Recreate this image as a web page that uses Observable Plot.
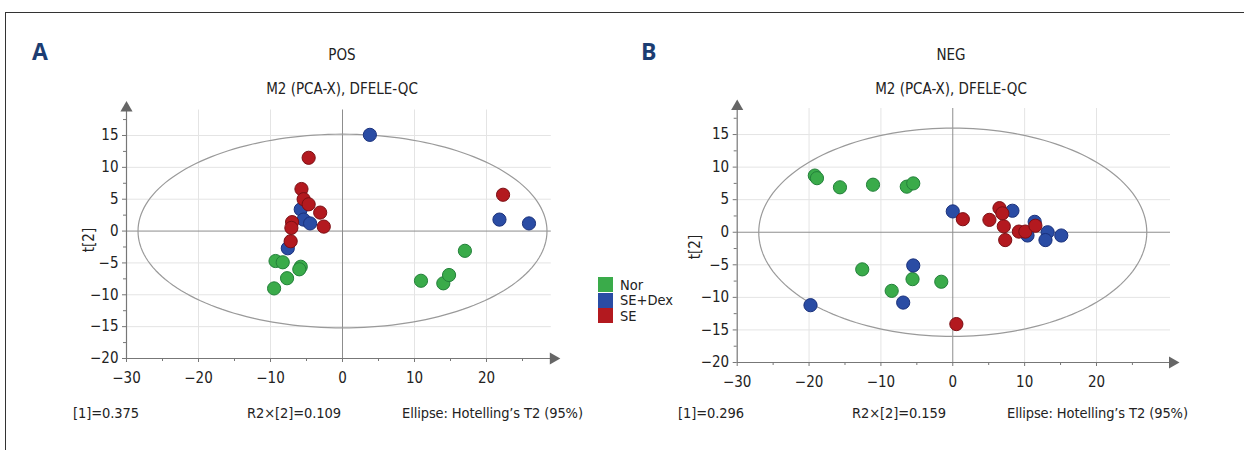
<!DOCTYPE html>
<html>
<head>
<meta charset="utf-8">
<script src="https://cdn.jsdelivr.net/npm/d3@7"></script>
<script src="https://cdn.jsdelivr.net/npm/@observablehq/plot@0.6"></script>
<style>
  html, body { margin: 0; padding: 0; background: #fff; }
  #wrap { position: relative; width: 1244px; height: 450px; background: #fff; overflow: hidden;
    font-family: "Liberation Sans Narrow", "DejaVu Sans Condensed", "Roboto Condensed", "Arial Narrow", sans-serif;
    font-stretch: condensed; color: #222; }
  .frame { position: absolute; left: 5px; top: 12px; right: 0; bottom: 0;
    border-left: 1px solid #333; border-top: 1px solid #333; }
  .abs { position: absolute; white-space: nowrap; }
  .letter { font-family: "Open Sans", "Liberation Sans", sans-serif; font-stretch: normal; font-weight: 700;
    font-size: 23px; color: #1c3d72; line-height: 1; }
  .title { font-size: 15px; line-height: 1; transform: translate(-50%, -50%); }
  .stat { font-size: 14.5px; line-height: 1; letter-spacing: -0.1px; transform: translateY(-50%); }
  .ylab { font-size: 15px; line-height: 1; transform: translate(-50%, -50%) rotate(-90deg); }
  .leg { position: absolute; left: 598px; height: 15px; display: flex; align-items: center; font-size: 14.5px; line-height: 14px; }
  .leg span.sw { display: inline-block; width: 15px; height: 15px; margin-right: 7px; }
  .plot { position: absolute; top: 100px; }
</style>
</head>
<body>
<div id="wrap">
  <div class="frame"></div>
  <div id="texts"></div>
  <div id="plotA" class="plot" style="left:0px"></div>
  <div id="plotB" class="plot" style="left:620px"></div>
</div>
<script>
// ---------- data (scores t[1], t[2]) ----------
const groups = ["Nor", "SE+Dex", "SE"];
const groupFill = ["#3aab4a", "#2a4ca4", "#b3191f"];
const groupStroke = ["#23803a", "#1a317c", "#7c0f14"];

// POS panel
const posNor = [[-9.3,-4.7],[-8.3,-4.9],[-5.8,-5.6],[-6.0,-6.0],[-7.7,-7.4],[-9.5,-9.0],[10.9,-7.8],[14.0,-8.2],[14.8,-6.9],[17.0,-3.1]];
const posDex = [[3.8,15.1],[-5.8,3.4],[-5.4,1.8],[-4.5,1.2],[-7.6,-2.7],[21.8,1.8],[25.9,1.2]];
const posSE  = [[-4.7,11.5],[-5.7,6.6],[-5.4,5.0],[-4.7,4.2],[-3.1,2.9],[-2.6,0.7],[-7.0,1.4],[-7.1,0.5],[-7.2,-1.6],[22.3,5.7]];

// NEG panel
const negNor = [[-19.2,8.7],[-18.9,8.3],[-15.7,6.9],[-11.1,7.3],[-6.4,7.0],[-5.5,7.5],[-12.6,-5.7],[-5.6,-7.2],[-8.5,-9.0],[-1.6,-7.6]];
const negDex = [[-5.5,-5.1],[-6.9,-10.8],[-19.8,-11.2],[0.0,3.2],[8.3,3.3],[10.4,-0.5],[11.4,1.6],[13.2,0.0],[12.9,-1.2],[15.1,-0.5]];
const negSE  = [[1.4,2.0],[5.1,1.9],[6.5,3.7],[6.9,2.9],[7.1,0.9],[7.3,-1.2],[9.2,0.1],[10.1,0.1],[11.5,1.0],[0.5,-14.1]];

// Hotelling's T2 ellipse semi-axes (t[1], t[2])
const posEllipse = [28.4, 15.2];
const negEllipse = [27.0, 16.0];

// axis ticks
const xTicks = [-30, -20, -10, 0, 10, 20];
const xMinor = [-25, -15, -5, 5, 15, 25];
const yTicks = [-20, -15, -10, -5, 0, 5, 10, 15];
const yMinor = [-17.5, -12.5, -7.5, -2.5, 2.5, 7.5, 12.5, 17.5];
const xGrid = [-20, -10, 10, 20];
const yGrid = [-15, -10, -5, 5, 10, 15];

// texts
const panelLetters = ["A", "B"];
const modes = ["POS", "NEG"];
const modelTitle = "M2 (PCA-X), DFELE-QC";
const r2x1 = ["[1]=0.375", "[1]=0.296"];
const r2x2 = ["R2×[2]=0.109", "R2×[2]=0.159"];
const ellipseText = "Ellipse: Hotelling’s T2 (95%)";
const yLabel = "t[2]";

// ---------- layout ----------
const panels = [
  {el: "#plotA", data: [posNor, posDex, posSE], ell: posEllipse,
   width: 620, ml: 126, mr: 69.2, mt: 9.5, mb: 42, xDomain: [-30, 29], yDomain: [-20, 19]},
  {el: "#plotB", data: [negNor, negDex, negSE], ell: negEllipse,
   width: 624, ml: 116.7, mr: 74, mt: 8, mb: 38, xDomain: [-30, 30.3], yDomain: [-20, 19]}
];

function ellipsePoints([a, b]) {
  return d3.range(0, 361, 2).map(t => [a * Math.cos(t * Math.PI / 180), b * Math.sin(t * Math.PI / 180)]);
}

panels.forEach(p => {
  const axisColor = "#777";
  const marks = [
    Plot.gridX({ticks: xGrid, stroke: "#e4e4e4", strokeOpacity: 1}),
    Plot.gridY({ticks: yGrid, stroke: "#e4e4e4", strokeOpacity: 1}),
    Plot.ruleX([0], {stroke: "#8d8d8d", strokeWidth: 1}),
    Plot.ruleY([0], {stroke: "#8d8d8d", strokeWidth: 1}),
    Plot.line(ellipsePoints(p.ell), {x: d => d[0], y: d => d[1], stroke: "#9a9a9a", strokeWidth: 1.2, curve: "linear"}),
    Plot.ruleX([p.xDomain[0]], {stroke: axisColor, strokeWidth: 1.2}),
    Plot.ruleY([p.yDomain[0]], {stroke: axisColor, strokeWidth: 1.2}),
    Plot.dot([[p.xDomain[0], p.yDomain[1]]], {x: d => d[0], y: d => d[1], symbol: "triangle", r: 4.5, fill: "#666", stroke: null, dy: -2}),
    Plot.dot([[p.xDomain[1], p.yDomain[0]]], {x: d => d[0], y: d => d[1], symbol: "triangle", r: 4.5, fill: "#666", stroke: null, rotate: 90, dx: 2}),
    Plot.axisX({ticks: xTicks, tickSize: 4, tickPadding: 10, stroke: axisColor, fill: "#222", fontSize: 15}),
    Plot.axisX({ticks: xMinor, tickSize: 3, tickFormat: () => "", stroke: axisColor}),
    Plot.axisY({ticks: yTicks, tickSize: 4, tickPadding: 4, stroke: axisColor, fill: "#222", fontSize: 15}),
    Plot.axisY({ticks: yMinor, tickSize: 3, tickFormat: () => "", stroke: axisColor})
  ];
  p.data.forEach((arr, i) => {
    marks.push(Plot.dot(arr, {x: d => d[0], y: d => d[1], r: 6.6, fill: groupFill[i], stroke: groupStroke[i], strokeWidth: 1, fillOpacity: 1}));
  });
  const chart = Plot.plot({
    width: p.width, height: 300,
    marginLeft: p.ml, marginRight: p.mr, marginTop: p.mt, marginBottom: p.mb,
    x: {domain: p.xDomain, label: null, axis: null},
    y: {domain: p.yDomain, label: null, axis: null},
    style: {background: "transparent", fontFamily: "'Liberation Sans Narrow', 'DejaVu Sans Condensed', 'Roboto Condensed', sans-serif", fontSize: "15px", color: "#222", overflow: "visible"},
    marks
  });
  document.querySelector(p.el).appendChild(chart);
});

// ---------- texts ----------
const T = document.getElementById("texts");
function add(cls, text, left, top) {
  const d = document.createElement("div");
  d.className = "abs " + cls;
  d.textContent = text;
  d.style.left = left + "px";
  d.style.top = top + "px";
  T.appendChild(d);
}
const centers = [342, 951];
add("letter", panelLetters[0], 32, 40);
add("letter", panelLetters[1], 641, 40);
modes.forEach((m, i) => add("title", m, centers[i], 55));
centers.forEach(c => add("title", modelTitle, c, 89));
add("ylab", yLabel, 89, 240);
add("ylab", yLabel, 695, 247);
const statLeft = [[73, 247, 402], [678, 852, 1007]];
[0, 1].forEach(i => {
  add("stat", r2x1[i], statLeft[i][0], 413);
  add("stat", r2x2[i], statLeft[i][1], 413);
  add("stat", ellipseText, statLeft[i][2], 413);
});
// legend
const legTops = [277, 292.5, 308];
groups.forEach((g, i) => {
  const d = document.createElement("div");
  d.className = "leg";
  d.style.top = legTops[i] + "px";
  const sw = document.createElement("span");
  sw.className = "sw";
  sw.style.background = groupFill[i];
  d.appendChild(sw);
  d.appendChild(document.createTextNode(g));
  T.appendChild(d);
});
</script>
</body>
</html>
